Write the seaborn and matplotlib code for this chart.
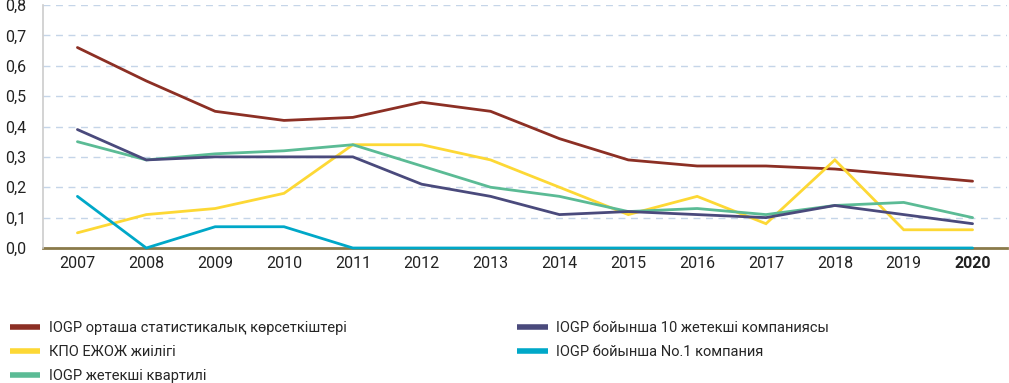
import pandas as pd
import numpy as np
import matplotlib.pyplot as plt
import seaborn as sns

years = ["2007", "2008", "2009", "2010", "2011", "2012", "2013",
         "2014", "2015", "2016", "2017", "2018", "2019", "2020"]

iogp_avg = [0.66, 0.55, 0.45, 0.42, 0.43, 0.48, 0.45, 0.36, 0.29, 0.27, 0.27, 0.26, 0.24, 0.22]
kpo = [0.05, 0.11, 0.13, 0.18, 0.34, 0.34, 0.29, 0.20, 0.11, 0.17, 0.08, 0.29, 0.06, 0.06]
iogp_quartile = [0.35, 0.29, 0.31, 0.32, 0.34, 0.27, 0.20, 0.17, 0.12, 0.13, 0.11, 0.14, 0.15, 0.10]
iogp_top10 = [0.39, 0.29, 0.30, 0.30, 0.30, 0.21, 0.17, 0.11, 0.12, 0.11, 0.10, 0.14, 0.11, 0.08]
iogp_no1 = [0.17, 0.00, 0.07, 0.07, 0.00, 0.00, 0.00, 0.00, 0.00, 0.00, 0.00, 0.00, 0.00, 0.00]

labels = ["IOGP орташа статистикалық көрсеткіштері",
          "КПО ЕЖОЖ жиілігі",
          "IOGP жетекші квартилі",
          "IOGP бойынша 10 жетекші компаниясы",
          "IOGP бойынша No.1 компания"]
series = [iogp_avg, kpo, iogp_quartile, iogp_top10, iogp_no1]
colors = ["#8c2f24", "#fdd835", "#5bbb95", "#4a4a7c", "#00a8c8"]

rows = []
for lab, vals in zip(labels, series):
    for i, v in enumerate(vals):
        rows.append({"idx": i, "value": v, "series": lab})
df = pd.DataFrame(rows)

sns.set_style("white")
plt.rcParams['font.family'] = ['Roboto', 'DejaVu Sans']

fig = plt.figure(figsize=(10.09, 3.83), dpi=100)
ax = fig.add_axes([43/1009, 1-248/383, (1007-43)/1009, (248-5)/383])

sns.lineplot(data=df, x="idx", y="value", hue="series", hue_order=labels,
             palette=colors, linewidth=2, ax=ax, legend=False)
for ln in ax.lines:
    ln.set_clip_on(False)
    ln.set_solid_joinstyle("miter")

ax.set_xlim(-0.5, 13.5)
ax.set_ylim(0, 0.8)
ax.set_yticks(np.arange(0, 0.81, 0.1))
ax.set_yticklabels([f"{v:.1f}".replace(".", ",") for v in np.arange(0, 0.81, 0.1)])
ax.set_xticks(range(len(years)))
ax.set_xticklabels(years)
ax.get_xticklabels()[-1].set_fontweight("bold")
ax.tick_params(axis="both", length=0, labelsize=11.5, colors="#222222")
ax.tick_params(axis="y", pad=12)
ax.tick_params(axis="x", pad=6)
ax.set_xlabel("")
ax.set_ylabel("")

ax.yaxis.grid(True, color="#c5d5e8", linestyle=(0, (5, 4)), linewidth=1)
ax.set_axisbelow(True)
for s in ["top", "right"]:
    ax.spines[s].set_visible(False)
ax.spines["left"].set_color("#cccccc")
ax.spines["left"].set_linewidth(1.2)
ax.spines["bottom"].set_color("#8a7a4a")
ax.spines["bottom"].set_linewidth(2)
ax.spines["bottom"].set_zorder(1)

handles = [plt.Line2D([0], [0], color=c, linewidth=4, solid_capstyle="butt") for c in colors]
fig.legend(handles, labels, loc="upper left", bbox_to_anchor=(0.004, 1 - 315/383),
           ncol=2, frameon=False, fontsize=10.5, handlelength=2.1, handletextpad=0.55,
           columnspacing=11.7, labelspacing=0.68, borderaxespad=0)

plt.savefig("out.png", dpi=100)
